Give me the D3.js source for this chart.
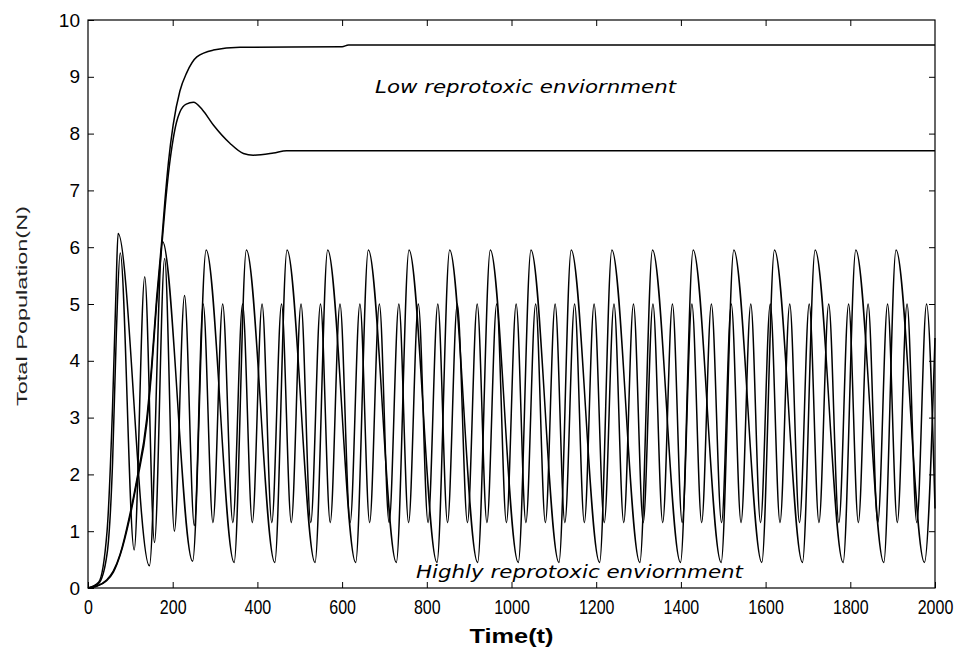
<!DOCTYPE html>
<html>
<head>
<meta charset="utf-8">
<script src="https://cdn.jsdelivr.net/npm/d3@7"></script>
<style>
  body { margin: 0; background: #fff; }
  svg { display: block; }
</style>
</head>
<body>
<div id="chart"></div>
<script>
// tick labels
const xTickValues = [0, 200, 400, 600, 800, 1000, 1200, 1400, 1600, 1800, 2000];
const yTickValues = [0, 1, 2, 3, 4, 5, 6, 7, 8, 9, 10];

// low reprotoxic environment: [t, N]
const lowUpper = [[0, 0], [20, 0.03], [44, 0.14], [60, 0.3], [76, 0.6], [99, 1.3], [115, 1.9], [139, 3.0],
  [150, 3.9], [162, 5.1], [174, 6.1], [182, 6.85], [190, 7.5], [201, 8.15], [217, 8.75], [233, 9.07],
  [257, 9.35], [296, 9.47], [359, 9.52], [600, 9.53], [615, 9.56], [2000, 9.56]];
const lowLower = [[0, 0], [20, 0.03], [44, 0.13], [60, 0.28], [76, 0.58], [99, 1.25], [115, 1.85], [139, 2.9],
  [150, 3.8], [162, 5.0], [174, 6.0], [182, 6.7], [190, 7.3], [201, 7.9], [209, 8.2], [217, 8.38],
  [232, 8.52], [249, 8.55], [270, 8.42], [296, 8.15], [335, 7.83], [367, 7.65], [390, 7.62], [438, 7.66],
  [469, 7.7], [2000, 7.7]];

// highly reprotoxic environment, wide oscillation: peaks and troughs [t, N]
const highWide = [[0, 0], [25, 0.1], [45, 1.0], [58, 3.2], [66, 5.2], [71, 6.24], [145, 0.39], [176, 6.1],
  [247, 0.47], [279, 5.95], [345, 0.45], [374, 5.95], [441, 0.45], [470, 5.95], [536, 0.45], [566, 5.95],
  [632, 0.45], [662, 5.95], [728, 0.45], [758, 5.95], [824, 0.45], [854, 5.95], [920, 0.45], [950, 5.95],
  [1016, 0.45], [1046, 5.95], [1112, 0.45], [1141, 5.95], [1208, 0.45], [1237, 5.95], [1303, 0.45],
  [1333, 5.95], [1399, 0.45], [1429, 5.95], [1495, 0.45], [1525, 5.95], [1591, 0.45], [1621, 5.95],
  [1687, 0.45], [1717, 5.95], [1783, 0.45], [1813, 5.95], [1879, 0.45], [1908, 5.95], [1975, 0.45],
  [2000, 4.4]];

// highly reprotoxic environment, narrow oscillation: peaks and troughs [t, N]
const highNarrow = [[0, 0], [25, 0.08], [45, 0.6], [58, 2.2], [67, 4.5], [76, 5.9], [109, 0.67], [134, 5.48],
  [157, 0.8], [181, 5.8], [204, 1.0], [228, 5.15], [251, 1.1], [272, 5.0], [295, 1.15], [318, 5.0],
  [342, 1.15], [365, 5.0], [388, 1.15], [411, 5.0], [434, 1.15], [457, 5.0], [480, 1.15], [503, 5.0],
  [526, 1.15], [549, 5.0], [572, 1.15], [595, 5.0], [619, 1.15], [642, 5.0], [665, 1.15], [688, 5.0],
  [711, 1.15], [734, 5.0], [757, 1.15], [780, 5.0], [803, 1.15], [826, 5.0], [849, 1.15], [872, 5.0],
  [896, 1.15], [919, 5.0], [942, 1.15], [965, 5.0], [988, 1.15], [1011, 5.0], [1034, 1.15], [1057, 5.0],
  [1080, 1.15], [1103, 5.0], [1126, 1.15], [1149, 5.0], [1172, 1.15], [1195, 5.0], [1219, 1.15],
  [1242, 5.0], [1265, 1.15], [1288, 5.0], [1311, 1.15], [1334, 5.0], [1357, 1.15], [1380, 5.0],
  [1403, 1.15], [1426, 5.0], [1449, 1.15], [1472, 5.0], [1496, 1.15], [1519, 5.0], [1542, 1.15],
  [1565, 5.0], [1588, 1.15], [1611, 5.0], [1634, 1.15], [1657, 5.0], [1680, 1.15], [1703, 5.0],
  [1726, 1.15], [1749, 5.0], [1773, 1.15], [1796, 5.0], [1819, 1.15], [1842, 5.0], [1865, 1.15],
  [1888, 5.0], [1911, 1.15], [1934, 5.0], [1957, 1.15], [1980, 5.0], [2000, 1.4]];

const width = 965, height = 648;
const plotLeft = 88, plotRight = 935, plotTop = 20, plotBottom = 588;

const svg = d3.select('#chart').append('svg')
  .attr('width', width)
  .attr('height', height)
  .style('font-family', '"Liberation Sans", Arial, sans-serif');

svg.append('rect').attr('width', width).attr('height', height).attr('fill', '#fff');

const x = d3.scaleLinear().domain([0, 2000]).range([plotLeft, plotRight]);
const y = d3.scaleLinear().domain([0, 10]).range([plotBottom, plotTop]);

// curves
const line = d3.line()
  .x(d => x(d[0]))
  .y(d => y(d[1]))
  .curve(d3.curveMonotoneX);

const plot = svg.append('g');
[lowUpper, lowLower, highWide, highNarrow].forEach(s => {
  plot.append('path')
    .datum(s)
    .attr('d', line)
    .attr('fill', 'none')
    .attr('stroke', '#000')
    .attr('stroke-width', 1.5);
});

// axes, ticks point inward on all four sides
const tickLen = 6;
const gx = svg.append('g').attr('transform', `translate(0,${plotBottom})`)
  .call(d3.axisBottom(x).tickValues(xTickValues).tickSize(-tickLen).tickPadding(0).tickFormat(d3.format('d')));
const gy = svg.append('g').attr('transform', `translate(${plotLeft},0)`)
  .call(d3.axisLeft(y).tickValues(yTickValues).tickSize(-tickLen).tickPadding(8));
const gt = svg.append('g').attr('transform', `translate(0,${plotTop})`)
  .call(d3.axisTop(x).tickValues(xTickValues.slice(1, -1)).tickSize(-tickLen).tickFormat(''));
const gr = svg.append('g').attr('transform', `translate(${plotRight},0)`)
  .call(d3.axisRight(y).tickValues(yTickValues.slice(1, -1)).tickSize(-tickLen).tickFormat(''));

[gx, gy, gt, gr].forEach(g => {
  g.select('.domain').remove();
  g.selectAll('line').attr('stroke', '#000');
});
// x labels look tall and narrow in the original
gx.selectAll('text')
  .attr('font-size', 16).attr('fill', '#000')
  .attr('dy', null).attr('y', 0)
  .attr('transform', 'translate(0,26) scale(1,1.3)');
gy.selectAll('text').attr('font-size', 19).attr('fill', '#000');

svg.append('rect')
  .attr('x', plotLeft).attr('y', plotTop)
  .attr('width', plotRight - plotLeft).attr('height', plotBottom - plotTop)
  .attr('fill', 'none').attr('stroke', '#000').attr('stroke-width', 1.2);

// axis titles
svg.append('text')
  .attr('x', (plotLeft + plotRight) / 2).attr('y', 0)
  .attr('transform', 'translate(0,643) scale(1,1.15)')
  .attr('text-anchor', 'middle')
  .attr('font-size', 18).attr('font-weight', 'bold')
  .attr('textLength', 84).attr('lengthAdjust', 'spacingAndGlyphs')
  .text('Time(t)');

svg.append('text')
  .attr('transform', `translate(27,${(plotTop + plotBottom) / 2 + 2}) rotate(-90)`)
  .attr('text-anchor', 'middle')
  .attr('font-size', 15)
  .attr('fill', '#222')
  .attr('textLength', 200).attr('lengthAdjust', 'spacingAndGlyphs')
  .text('Total Population(N)');

// annotations
svg.append('text')
  .attr('x', 375).attr('y', 93)
  .attr('font-family', '"DejaVu Sans", sans-serif')
  .attr('font-style', 'italic').attr('font-size', 18)
  .attr('textLength', 301).attr('lengthAdjust', 'spacingAndGlyphs')
  .text('Low reprotoxic enviornment');

svg.append('text')
  .attr('x', 416).attr('y', 578)
  .attr('font-family', '"DejaVu Sans", sans-serif')
  .attr('font-style', 'italic').attr('font-size', 18)
  .attr('textLength', 327).attr('lengthAdjust', 'spacingAndGlyphs')
  .text('Highly reprotoxic enviornment');
</script>
</body>
</html>
